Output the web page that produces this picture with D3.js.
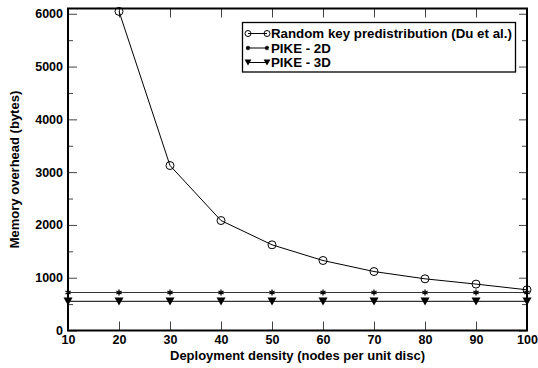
<!DOCTYPE html>
<html>
<head>
<meta charset="utf-8">
<script src="https://cdn.jsdelivr.net/npm/d3@7"></script>
<style>
  body { margin: 0; background: #fff; }
  text { font-family: "Liberation Sans", Arial, sans-serif; font-weight: bold; }
</style>
</head>
<body>
<svg width="538" height="368"></svg>
<script>
// densita' (nodi per disco unitario)
var density = [10, 20, 30, 40, 50, 60, 70, 80, 90, 100];
var randomKey = [null, 6045, 3125, 2083, 1623, 1326, 1117, 979, 879, 771];
var pike2d = [720, 720, 720, 720, 720, 720, 720, 720, 720, 720];
var pike3d = [550, 550, 550, 550, 550, 550, 550, 550, 550, 550];
var seriesNames = ["Random key predistribution (Du et al.)", "PIKE - 2D", "PIKE - 3D"];
var yTicks = [0, 1000, 2000, 3000, 4000, 5000, 6000];

var svg = d3.select("svg");
// attenzione: "top" e' gia' window.top, uso altri nomi
var pLeft = 68, pRight = 527, pTop = 8.5, pBottom = 330.5;

var xScale = d3.scaleLinear().domain([10, 100]).range([pLeft, pRight]);
var yScale = d3.scaleLinear().domain([0, 6100]).range([pBottom, pTop]);

// assi: tick verso l'interno
svg.append("g")
  .attr("transform", `translate(0,${pBottom})`)
  .call(d3.axisBottom(xScale).tickValues(density).tickSize(-9).tickPadding(5).tickFormat(d3.format("d")));
svg.append("g")
  .attr("transform", `translate(0,${pTop})`)
  .call(d3.axisTop(xScale).tickValues(density).tickSize(-9).tickFormat(""));
svg.append("g")
  .attr("transform", `translate(${pLeft},0)`)
  .call(d3.axisLeft(yScale).tickValues(yTicks).tickSize(-9).tickPadding(5).tickFormat(d3.format("d")));
svg.append("g")
  .attr("transform", `translate(${pLeft},0)`)
  .call(d3.axisLeft(yScale).tickValues(d3.range(500, 6100, 1000)).tickSize(-5).tickFormat(""));
svg.append("g")
  .attr("transform", `translate(${pRight},0)`)
  .call(d3.axisRight(yScale).tickValues(yTicks).tickSize(-8).tickFormat(""));
svg.append("g")
  .attr("transform", `translate(${pRight},0)`)
  .call(d3.axisRight(yScale).tickValues(d3.range(500, 6100, 1000)).tickSize(-5).tickFormat(""));

svg.selectAll(".domain").remove();
svg.selectAll(".tick line").attr("stroke", "#444").attr("stroke-width", 1);
svg.selectAll(".tick text").attr("font-size", 12.5).attr("fill", "#000");

svg.append("rect")
  .attr("x", pLeft).attr("y", pTop)
  .attr("width", pRight - pLeft).attr("height", pBottom - pTop)
  .style("fill", "none").style("stroke", "black").style("stroke-width", 2);

svg.append("clipPath").attr("id", "plotclip").append("rect")
  .attr("x", pLeft - 6).attr("y", pTop - 6).attr("width", pRight - pLeft + 12).attr("height", pBottom - pTop + 12);

var line = d3.line()
  .defined(d => d[1] != null)
  .x(d => xScale(d[0]))
  .y(d => yScale(d[1]));

function pts(vals) { return density.map((d, i) => [d, vals[i]]); }

var g = svg.append("g").attr("clip-path", "url(#plotclip)");

g.append("path").datum(pts(pike2d)).attr("d", line)
  .style("fill", "none").style("stroke", "#333").style("stroke-width", 1.2);
g.append("path").datum(pts(pike3d)).attr("d", line)
  .style("fill", "none").style("stroke", "#333").style("stroke-width", 1.2);
g.append("path").datum(pts(randomKey)).attr("d", line)
  .style("fill", "none").style("stroke", "black").style("stroke-width", 1);

var tri = "M-4.5,-4 L4.5,-4 L0,4 Z";

// k = fattore di scala del marker (piu' piccolo in legenda)
function circleMark(sel, x, y, k) {
  sel.append("circle").attr("cx", x).attr("cy", y).attr("r", 4 * k)
    .style("fill", "none").style("stroke", "black").style("stroke-width", 1);
}
function starMark(sel, x, y, k) {
  sel.append("path").attr("d", d3.symbol().type(d3.symbolAsterisk).size(24 * k * k))
    .attr("transform", `translate(${x},${y})`)
    .style("fill", "none").style("stroke", "black").style("stroke-width", 1.3);
}
function triMark(sel, x, y, k) {
  sel.append("path").attr("d", tri).attr("transform", `translate(${x},${y}) scale(${k})`)
    .style("fill", "black");
}

pts(randomKey).filter(d => d[1] != null).forEach(d => circleMark(g, xScale(d[0]), yScale(d[1]), 1));
pts(pike2d).forEach(d => starMark(g, xScale(d[0]), yScale(d[1]), 1));
pts(pike3d).forEach(d => triMark(g, xScale(d[0]), yScale(d[1]), 1));

// legenda
var leg = svg.append("g");
leg.append("rect").attr("x", 242.5).attr("y", 22.5).attr("width", 273).attr("height", 49.5)
  .style("fill", "white").style("stroke", "black").style("stroke-width", 1.3);
var markFns = [circleMark, starMark, triMark];
seriesNames.forEach(function(name, i) {
  var y = 33.5 + i * 14.5;
  leg.append("line").attr("x1", 248).attr("x2", 267).attr("y1", y).attr("y2", y)
    .style("stroke", "black").style("stroke-width", 1);
  markFns[i](leg, 248, y, 0.75);
  markFns[i](leg, 267, y, 0.75);
  leg.append("text").attr("x", 271).attr("y", y + 4.5).attr("font-size", 13.3).text(name);
});

svg.append("text")
  .attr("x", (pLeft + pRight) / 2).attr("y", 360)
  .attr("text-anchor", "middle").attr("font-size", 13)
  .text("Deployment density (nodes per unit disc)");
svg.append("text")
  .attr("transform", `translate(19,${(pTop + pBottom) / 2}) rotate(-90)`)
  .attr("text-anchor", "middle").attr("font-size", 13)
  .text("Memory overhead (bytes)");
</script>
</body>
</html>
